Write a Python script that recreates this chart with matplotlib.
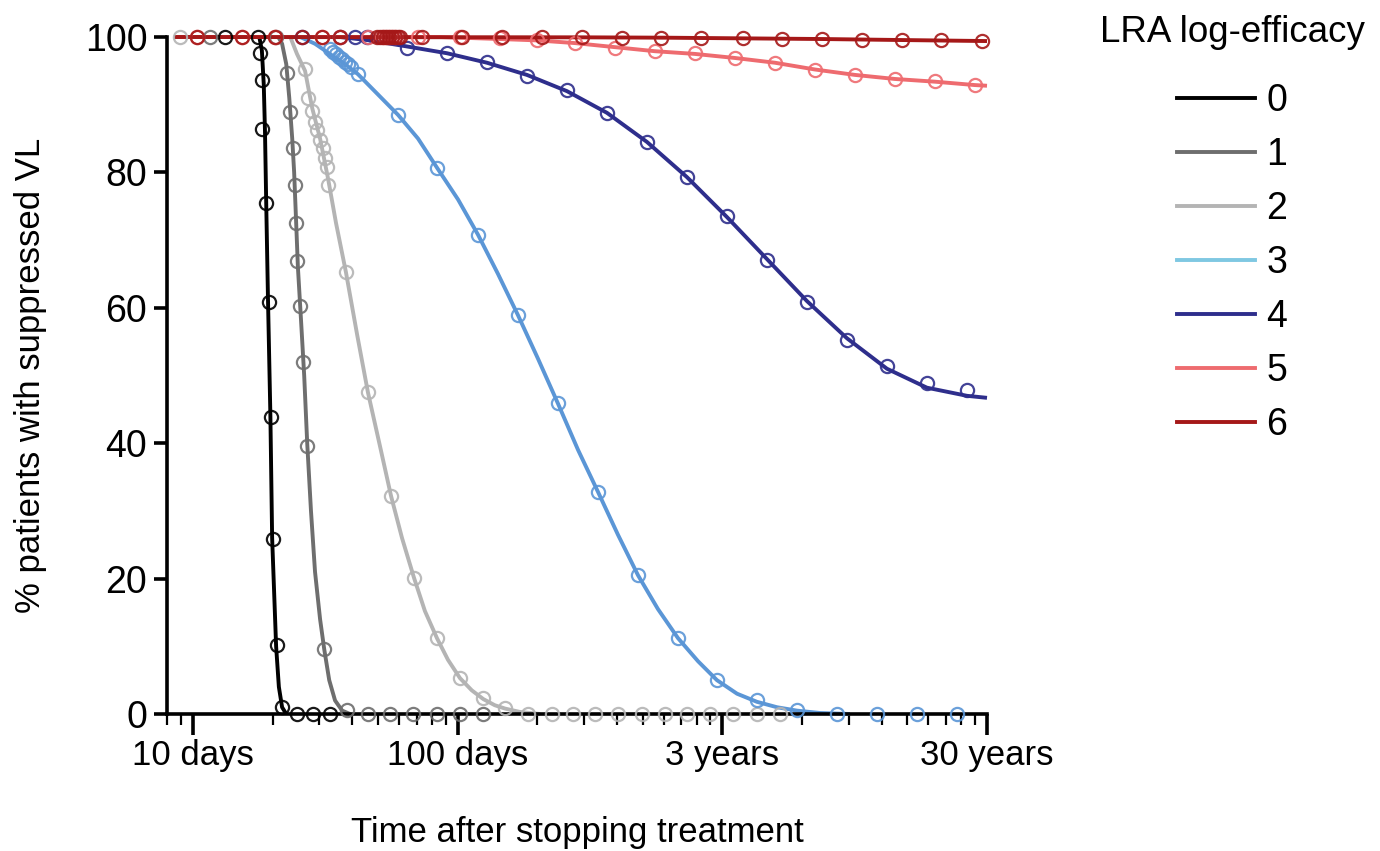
import numpy as np
import matplotlib.pyplot as plt
from matplotlib.lines import Line2D
from matplotlib.ticker import FixedLocator, NullFormatter

plt.rcParams['font.family'] = ['Liberation Sans', 'DejaVu Sans']

# time after stopping treatment (days) and % of patients with suppressed VL
# smooth fitted curves and simulated points for each LRA log-efficacy
fit0_t = [8.5, 17.8, 18.2, 18.5, 18.7, 18.9, 19.2, 19.6, 19.9, 20.6, 21.1, 21.7, 22.5]
fit0_p = [100, 100, 98, 93, 86, 75.5, 61, 44, 26, 10, 4, 1, 0]
sim0_t = [13.2, 17.6, 17.9, 18.2, 18.2, 18.9, 19.4, 19.7, 20.1, 20.8, 21.7, 24.7, 28.4, 32.9]
sim0_p = [100, 100, 97.6, 93.6, 86.4, 75.5, 60.9, 43.9, 25.8, 10.2, 1.0, 0, 0, 0]

fit1_t = [8.5, 21.0, 21.7, 22.5, 23.1, 23.7, 24.1, 24.5, 24.9, 25.6, 26.3, 27.0,
          27.9, 28.9, 30.2, 31.3, 32.7, 34.4, 36.6, 39.2]
fit1_p = [100, 100, 99, 96, 91, 85, 80, 73, 66, 58, 50, 40, 30, 21, 14, 9.6, 5, 2, 0.5, 0]
sim1_t = [11.6, 20.6, 22.7, 23.3, 23.9, 24.3, 24.5, 24.7, 25.4, 26.0, 27.0, 31.3, 38.2,
          45.8, 55.5, 67.8, 83.5, 102, 124.6]
sim1_p = [100, 100, 94.7, 88.9, 83.6, 78.1, 72.5, 66.9, 60.3, 52.0, 39.6, 9.6, 0.6,
          0, 0, 0, 0, 0, 0]

fit2_t = [8.5, 23.3, 24.7, 26.5, 28.2, 30.2, 32.4, 34.7, 37.8, 41.7, 45.8, 50.9, 56.0,
          61.6, 68.4, 75.2, 83.5, 91.9, 102, 113, 125, 138, 151, 172, 205]
fit2_p = [100, 100, 97.5, 95, 89.5, 85, 79, 72.5, 65.3, 56, 47.5, 39.5, 32.2,
          26, 20.1, 15.2, 11.2, 8, 5.3, 3.5, 2.2, 1.3, 0.8, 0.3, 0]
sim2_t = [8.9, 26.5, 27.2, 28.2, 28.9, 29.4, 30.2, 31.0, 31.5, 32.1, 32.4, 37.8, 45.8,
          56.0, 68.4, 83.5, 102, 125, 151, 184, 227, 273, 330, 403, 497, 607, 735,
          898, 1097, 1351, 1651]
sim2_p = [100, 95.3, 91, 89, 87.4, 86.3, 84.8, 83.6, 82.1, 80.8, 78.1, 65.3, 47.5,
          32.2, 20.1, 11.2, 5.3, 2.4, 0.9, 0, 0, 0, 0, 0, 0, 0, 0, 0, 0, 0, 0]

fit3_t = [8.5, 25.4, 28.9, 32.9, 37.5, 42.0, 50.0, 59.5, 70.8, 83.5, 100.3, 119.3, 142,
          169, 201, 239, 285, 339, 403, 480, 571, 680, 809, 954, 1136, 1351, 1608,
          1913, 2337, 3035]
fit3_p = [100, 100, 99, 97.5, 96, 94.5, 91.5, 88.5, 85, 80.7, 76, 70.8, 65,
          58.9, 52.5, 45.9, 39, 32.8, 26.5, 20.5, 15.5, 11.2, 7.8, 5, 3, 1.8, 1,
          0.5, 0.15, 0]
sim3_t = [32.9, 33.8, 34.7, 35.6, 36.6, 37.5, 38.5, 39.5, 42.0, 59.5, 83.5, 119.3, 169,
          239, 339, 480, 680, 954, 1351, 1913, 2710, 3838, 5435, 7697]
sim3_p = [98.2, 97.8, 97.5, 97.1, 96.7, 96.3, 96.0, 95.6, 94.5, 88.5, 80.7, 70.8, 58.9,
          45.9, 32.8, 20.5, 11.2, 5.0, 2.0, 0.6, 0, 0, 0, 0]

fit4_t = [8.5, 35.9, 46.6, 64.4, 91.1, 129, 182.7, 258.8, 366.4, 518.9, 735, 1041,
          1474, 2087, 2957, 4187, 5929, 8398, 10000]
fit4_p = [100, 100, 99.5, 98.6, 97.6, 96.2, 94.4, 92, 88.8, 84.5, 79.3, 73.4,
          67.2, 61, 55.5, 51, 48.2, 47, 46.7]
sim4_t = [25.8, 35.9, 40.9, 45.4, 64.4, 91.1, 129, 182.7, 258.8, 366.4, 518.9, 735,
          1041, 1474, 2087, 2957, 4187, 5929, 8398]
sim4_p = [100, 100, 100, 100, 98.4, 97.6, 96.3, 94.3, 92.2, 88.8, 84.5, 79.3,
          73.6, 67.1, 60.9, 55.2, 51.4, 48.9, 47.9]

fit5_t = [8.5, 85.7, 102, 144.5, 199.4, 277.5, 392.9, 556.5, 788, 1116, 1580, 2238,
          3170, 4489, 6356, 9001, 10000]
fit5_p = [100, 100, 99.9, 99.7, 99.5, 99.1, 98.5, 97.9, 97.5, 96.9, 96.2, 95.2,
          94.4, 93.8, 93.4, 92.9, 92.8]
sim5_t = [10.35, 15.3, 20.4, 30.7, 35.9, 45.8, 52.2, 53.6, 55.0, 56.5, 58.0, 70.8,
          102, 144.5, 199.4, 277.5, 392.9, 556.5, 788, 1116, 1580, 2238, 3170, 4489,
          6356, 9001]
sim5_p = [100, 100, 100, 100, 100, 100, 100, 100, 100, 100, 100, 100,
          100, 99.8, 99.6, 99.1, 98.4, 97.9, 97.6, 96.9, 96.2, 95.1, 94.4, 93.8,
          93.5, 92.9]

fit6_t = [8.5, 300, 600, 1200, 2400, 4800, 10000]
fit6_p = [100, 99.95, 99.9, 99.8, 99.7, 99.55, 99.4]
sim6_t = [10.35, 15.3, 20.4, 25.8, 30.7, 35.9, 49.6, 50.9, 52.2, 53.6, 55.0, 56.5,
          58.0, 59.5, 60.5, 73.3, 103.8, 147.0, 208.3, 294.9, 417.6, 586.3, 830.3,
          1196, 1680, 2378, 3369, 4770, 6695, 9566]
sim6_p = [100, 100, 100, 100, 100, 100, 100, 100, 100, 100, 100, 100,
          100, 100, 100, 100, 100, 100, 100, 100, 99.9, 99.9, 99.8,
          99.8, 99.7, 99.7, 99.6, 99.6, 99.5, 99.4]

efficacy_labels = ['0', '1', '2', '3', '4', '5', '6']
curve_colors = ['#000000', '#6e6e6e', '#b4b4b4', '#5b96d6', '#2e2e8c', '#ee6b6f', '#a51818']
legend_colors = ['#000000', '#6e6e6e', '#b4b4b4', '#7fc8e2', '#2e2e8c', '#ee6b6f', '#a51818']

x_ticks = [10, 100, 1000, 10000]
x_ticklabels = ['10 days', '100 days', '3 years', '30 years']
y_ticks = [0, 20, 40, 60, 80, 100]

fits = [(fit0_t, fit0_p), (fit1_t, fit1_p), (fit2_t, fit2_p), (fit3_t, fit3_p),
        (fit4_t, fit4_p), (fit5_t, fit5_p), (fit6_t, fit6_p)]
sims = [(sim0_t, sim0_p), (sim1_t, sim1_p), (sim2_t, sim2_p), (sim3_t, sim3_p),
        (sim4_t, sim4_p), (sim5_t, sim5_p), (sim6_t, sim6_p)]

W, H = 1380, 851
fig = plt.figure(figsize=(W / 100, H / 100), dpi=100)
ax = fig.add_axes([167.4 / W, (H - 714) / H, (987 - 167.4) / W, (714 - 37) / H])

for (ft, fp), (st, sp), col in zip(fits, sims, curve_colors):
    ax.plot(ft, fp, color=col, lw=2.8, clip_on=False, zorder=2, solid_capstyle='butt')
    ax.plot(st, sp, linestyle='none', marker='o', ms=9.5, mfc='none', mec=col,
            mew=1.6, clip_on=False, zorder=3, alpha=0.9)

ax.set_xscale('log')
ax.set_xlim(8, 10000)
ax.set_ylim(0, 100)
ax.xaxis.set_major_locator(FixedLocator(x_ticks))
ax.set_xticklabels(x_ticklabels)
minor = [m * 10 ** e for e in range(0, 4) for m in range(2, 10)]
ax.xaxis.set_minor_locator(FixedLocator([v for v in minor if 8 <= v <= 10000]))
ax.xaxis.set_minor_formatter(NullFormatter())
ax.set_yticks(y_ticks)

for side in ['top', 'right']:
    ax.spines[side].set_visible(False)
for side in ['left', 'bottom']:
    ax.spines[side].set_linewidth(2.6)
    ax.spines[side].set_zorder(2.5)

ax.tick_params(axis='x', which='major', length=15, width=2.6, labelsize=25, pad=3)
ax.tick_params(axis='x', which='minor', length=8, width=1.6)
ax.tick_params(axis='y', which='major', length=9.5, width=2.6, labelsize=27, pad=5)

ax.set_xlabel('Time after stopping treatment', fontsize=25, labelpad=32)
ax.set_ylabel('% patients with suppressed VL', fontsize=25, labelpad=27)

handles = [Line2D([0], [0], color=c, lw=2.8) for c in legend_colors]
leg = fig.legend(handles, efficacy_labels, title='LRA log-efficacy',
                 loc='upper center', bbox_to_anchor=(1232 / W, 1.0),
                 frameon=False, fontsize=27, title_fontsize=26.5,
                 handlelength=2.1, handletextpad=0.3, labelspacing=0.48,
                 borderaxespad=0)
leg._legend_box.sep = 24

fig.savefig('out.png', dpi=100)
